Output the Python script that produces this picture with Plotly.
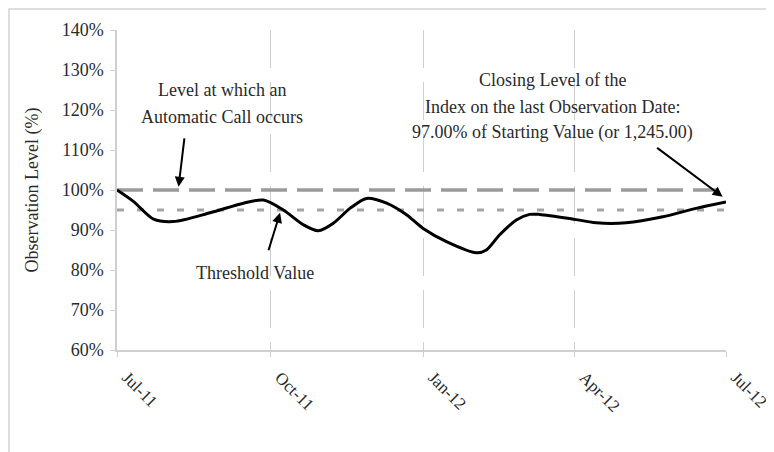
import plotly.graph_objects as go

dates = ["2011-07-01", "2011-07-11", "2011-07-23", "2011-08-04", "2011-08-26",
         "2011-09-15", "2011-09-27", "2011-10-09", "2011-10-21", "2011-10-30",
         "2011-11-08", "2011-11-18", "2011-11-28", "2011-12-10", "2011-12-22",
         "2012-01-01", "2012-01-15", "2012-02-02", "2012-02-08", "2012-02-16",
         "2012-02-26", "2012-03-05", "2012-03-11", "2012-03-29", "2012-04-14",
         "2012-05-02", "2012-05-24", "2012-06-13", "2012-07-01"]
levels = [100.0, 97.1, 92.7, 92.1, 94.3,
          96.7, 97.5, 95.0, 91.3, 89.8,
          91.7, 95.4, 97.9, 96.7, 93.8,
          90.4, 87.1, 84.3, 85.0, 88.8,
          92.5, 93.9, 93.9, 92.9, 91.8,
          91.8, 93.3, 95.4, 97.0]

call_level = 100
threshold = 95
x_start, x_end = "2011-07-01", "2012-07-01"
y_ticks = [60, 70, 80, 90, 100, 110, 120, 130, 140]
y_ticklabels = [f"{v}%" for v in y_ticks]

FONT = "Liberation Serif"
TXT = "#2a2a2a"

fig = go.Figure()
fig.add_trace(go.Scatter(x=[x_start, x_end], y=[call_level, call_level], mode="lines",
                         line=dict(color="#9a9a9a", width=3.5, dash="26px,10px"),
                         hoverinfo="skip", showlegend=False))
fig.add_trace(go.Scatter(x=[x_start, x_end], y=[threshold, threshold], mode="lines",
                         line=dict(color="#a4a4a4", width=3, dash="7px,13px"),
                         hoverinfo="skip", showlegend=False))
fig.add_trace(go.Scatter(x=dates, y=levels, mode="lines",
                         line=dict(color="black", width=3, shape="spline", smoothing=0.8),
                         showlegend=False))

annotations = []
call_lines = ["Level at which an", "Automatic Call occurs"]
call_y = [125.0, 118.3]
for t, y in zip(call_lines, call_y):
    annotations.append(dict(x="2011-09-02", y=y, text=t, showarrow=False,
                            xanchor="center", yanchor="middle"))
close_lines = ["Closing Level of the", "Index on the last Observation Date:",
               "97.00% of Starting Value (or 1,245.00)"]
close_y = [127.5, 120.8, 114.5]
for t, y in zip(close_lines, close_y):
    annotations.append(dict(x="2012-03-19", y=y, text=t, showarrow=False,
                            xanchor="center", yanchor="middle"))
annotations.append(dict(x="2011-09-22", y=79.3, text="Threshold Value", showarrow=False,
                        xanchor="center", yanchor="middle"))
arrow_style = dict(showarrow=True, text="", arrowhead=2, arrowsize=1, arrowwidth=2,
                   arrowcolor="black", standoff=0)
annotations.append(dict(x="2011-08-07", y=100.8, ax=6, ay=-50, **arrow_style))
annotations.append(dict(x="2011-10-07", y=94.3, ax=-12, ay=39, **arrow_style))
annotations.append(dict(x="2012-06-29", y=98.3, ax=-67, ay=-50, **arrow_style))

L, R, T, B = 109, 48, 22, 102
W, H = 766, 444
pw, ph = W - L - R, H - T - B

fig.update_layout(
    width=W, height=H,
    margin=dict(l=L, r=R, t=T, b=B, autoexpand=False),
    paper_bgcolor="white", plot_bgcolor="white",
    font=dict(family=FONT, size=18, color=TXT),
    annotations=annotations,
    shapes=[dict(type="rect", xref="paper", yref="paper",
                 x0=-(L - 1) / pw, x1=1 + (R + 20) / pw,
                 y0=-(B + 20) / ph, y1=1 + (T - 1) / ph,
                 line=dict(color="#d4d4d4", width=1.5), fillcolor="rgba(0,0,0,0)",
                 layer="below")],
    xaxis=dict(type="date", range=[x_start, x_end], tick0=x_start, dtick="M3",
               tickformat="%b-%y", tickangle=45, ticklabelshift=10, ticklabelstandoff=4,
               automargin=False,
               showgrid=True, gridcolor="#cfcfcf", gridwidth=1, griddash="38px,14px",
               showline=True, linecolor="#cfcfcf", linewidth=1.5,
               ticks="outside", ticklen=5, tickcolor="#cfcfcf",
               zeroline=False, tickfont=dict(family=FONT, size=17, color=TXT)),
    yaxis=dict(range=[60, 140], tickvals=y_ticks, ticktext=y_ticklabels,
               showgrid=False, showline=True, linecolor="#cfcfcf", linewidth=1.5,
               ticks="outside", ticklen=5, tickcolor="#cfcfcf", zeroline=False,
               ticklabelstandoff=3, automargin=False,
               title=dict(text="Observation Level (%)", standoff=18,
                          font=dict(family=FONT, size=18, color=TXT)),
               tickfont=dict(family=FONT, size=18, color=TXT)),
)

fig.write_html("out.html")
